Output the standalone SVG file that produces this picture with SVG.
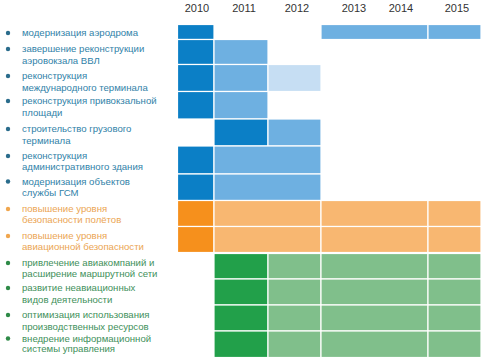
<svg xmlns="http://www.w3.org/2000/svg" width="484" height="360" viewBox="0 0 484 360">
<style>
text{font-family:"Liberation Sans",Arial,sans-serif;font-size:9.6px}
.yr{font-size:11px;fill:#333;text-anchor:middle}
.tb{fill:#3182a8}.to{fill:#eba553}.tg{fill:#41905a}
.bb{fill:#2a6c8c}.bo{fill:#f0a64e}.bg{fill:#2e8a47}
rect{stroke:#fff;stroke-width:1.2}
.db{fill:#0b7fc6}.lb{fill:#6eb0e1}.vb{fill:#c6def3}
.do{fill:#f6901c}.lo{fill:#f8b771}
.dg{fill:#22a04a}.lg{fill:#80bf8b}
</style>
<rect x="0" y="0" width="484" height="360" fill="#fff" stroke="none"/>
<g id="years">
<text class="yr" x="197" y="12">2010</text>
<text class="yr" x="244" y="12">2011</text>
<text class="yr" x="297" y="12">2012</text>
<text class="yr" x="354" y="12">2013</text>
<text class="yr" x="401" y="12">2014</text>
<text class="yr" x="457" y="12">2015</text>
</g>
<g id="row1">
<circle class="bb" cx="8" cy="33" r="2.2"/>
<text class="tb" x="22" y="36">модернизация аэродрома</text>
<rect class="db" x="177.5" y="24.5" width="36.5" height="15"/>
<rect class="lb" x="321" y="24.5" width="107" height="15"/>
<rect class="lb" x="428" y="24.5" width="53" height="15"/>
</g>
<g id="row2">
<circle class="bb" cx="8" cy="49" r="2.2"/>
<text class="tb" x="22" y="52">завершение реконструкции</text>
<text class="tb" x="22" y="64">аэровокзала ВВЛ</text>
<rect class="db" x="177.5" y="39.5" width="36.5" height="25"/>
<rect class="lb" x="214" y="39.5" width="54" height="25"/>
</g>
<g id="row3">
<circle class="bb" cx="8" cy="76" r="2.2"/>
<text class="tb" x="22" y="79">реконструкция</text>
<text class="tb" x="22" y="91">международного терминала</text>
<rect class="db" x="177.5" y="64.5" width="36.5" height="27"/>
<rect class="lb" x="214" y="64.5" width="54" height="27"/>
<rect class="vb" x="268" y="64.5" width="53" height="27"/>
</g>
<g id="row4">
<circle class="bb" cx="8" cy="101" r="2.2"/>
<text class="tb" x="22" y="104">реконструкция привокзальной</text>
<text class="tb" x="22" y="116">площади</text>
<rect class="db" x="177.5" y="91.5" width="36.5" height="27.5"/>
<rect class="lb" x="214" y="91.5" width="54" height="27.5"/>
</g>
<g id="row5">
<circle class="bb" cx="8" cy="129" r="2.2"/>
<text class="tb" x="22" y="132">строительство грузового</text>
<text class="tb" x="22" y="144">терминала</text>
<rect class="db" x="214" y="119" width="54" height="27"/>
<rect class="lb" x="268" y="119" width="53" height="27"/>
</g>
<g id="row6">
<circle class="bb" cx="8" cy="156" r="2.2"/>
<text class="tb" x="22" y="159">реконструкция</text>
<text class="tb" x="22" y="170">административного здания</text>
<rect class="db" x="177.5" y="146" width="36.5" height="28"/>
<rect class="lb" x="214" y="146" width="107" height="28"/>
</g>
<g id="row7">
<circle class="bb" cx="8" cy="181.5" r="2.2"/>
<text class="tb" x="22" y="184.5">модернизация объектов</text>
<text class="tb" x="22" y="196">службы ГСМ</text>
<rect class="db" x="177.5" y="174" width="36.5" height="26.5"/>
<rect class="lb" x="214" y="174" width="107" height="26.5"/>
</g>
<g id="row8">
<circle class="bo" cx="8" cy="209" r="2.2"/>
<text class="to" x="22" y="212">повышение уровня</text>
<text class="to" x="22" y="223">безопасности полётов</text>
<rect class="do" x="177.5" y="200.5" width="36.5" height="26"/>
<rect class="lo" x="214" y="200.5" width="107" height="26"/>
<rect class="lo" x="321" y="200.5" width="107" height="26"/>
<rect class="lo" x="428" y="200.5" width="53" height="26"/>
</g>
<g id="row9">
<circle class="bo" cx="8" cy="236" r="2.2"/>
<text class="to" x="22" y="239">повышение уровня</text>
<text class="to" x="22" y="249.5">авиационной безопасности</text>
<rect class="do" x="177.5" y="226.5" width="36.5" height="26"/>
<rect class="lo" x="214" y="226.5" width="107" height="26"/>
<rect class="lo" x="321" y="226.5" width="107" height="26"/>
<rect class="lo" x="428" y="226.5" width="53" height="26"/>
</g>
<g id="row10">
<circle class="bg" cx="8" cy="263" r="2.2"/>
<text class="tg" x="22" y="266">привлечение авиакомпаний и</text>
<text class="tg" x="22" y="277">расширение маршрутной сети</text>
<rect class="dg" x="214" y="253.5" width="54" height="25.5"/>
<rect class="lg" x="268" y="253.5" width="53" height="25.5"/>
<rect class="lg" x="321" y="253.5" width="107" height="25.5"/>
<rect class="lg" x="428" y="253.5" width="53" height="25.5"/>
</g>
<g id="row11">
<circle class="bg" cx="8" cy="288" r="2.2"/>
<text class="tg" x="22" y="291">развитие неавиационных</text>
<text class="tg" x="22" y="302.5">видов деятельности</text>
<rect class="dg" x="214" y="279" width="54" height="26"/>
<rect class="lg" x="268" y="279" width="53" height="26"/>
<rect class="lg" x="321" y="279" width="107" height="26"/>
<rect class="lg" x="428" y="279" width="53" height="26"/>
</g>
<g id="row12">
<circle class="bg" cx="8" cy="315" r="2.2"/>
<text class="tg" x="22" y="318">оптимизация использования</text>
<text class="tg" x="22" y="329.5">производственных ресурсов</text>
<rect class="dg" x="214" y="305" width="54" height="26"/>
<rect class="lg" x="268" y="305" width="53" height="26"/>
<rect class="lg" x="321" y="305" width="107" height="26"/>
<rect class="lg" x="428" y="305" width="53" height="26"/>
</g>
<g id="row13">
<circle class="bg" cx="8" cy="338.5" r="2.2"/>
<text class="tg" x="22" y="341.5">внедрение информационной</text>
<text class="tg" x="22" y="352">системы управления</text>
<rect class="dg" x="214" y="331" width="54" height="26.5"/>
<rect class="lg" x="268" y="331" width="53" height="26.5"/>
<rect class="lg" x="321" y="331" width="107" height="26.5"/>
<rect class="lg" x="428" y="331" width="53" height="26.5"/>
</g>
<g id="connectors"/>
</svg>
